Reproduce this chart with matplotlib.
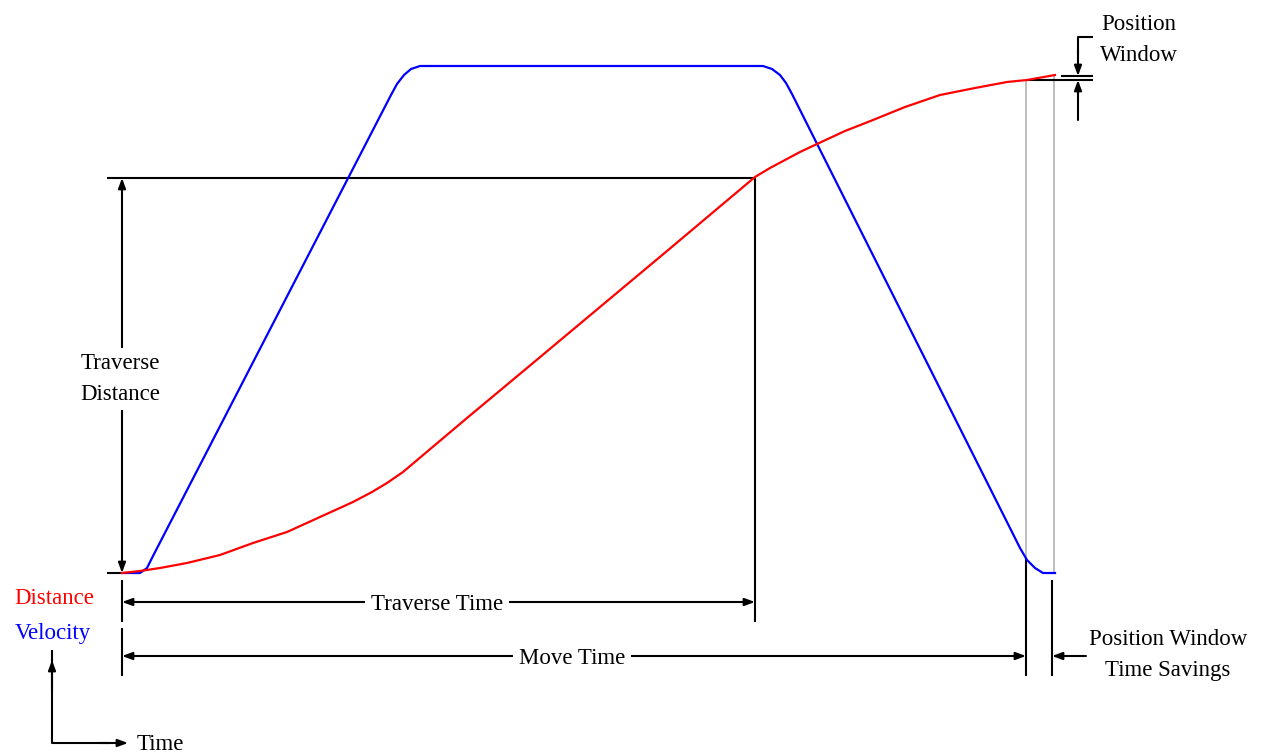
import matplotlib.pyplot as plt

# Velocity profile (trapezoid with rounded corners), pixel coords of the drawing
vel_t = [122, 140, 147, 153, 391, 397, 404, 411, 420, 763, 772, 780, 786, 792,
         1012, 1020, 1027, 1035, 1043, 1055]
vel_y = [573, 573, 568, 556, 95, 84, 75, 69, 66, 66, 69, 75, 83, 94,
         532, 548, 560, 568, 573, 573]

# Distance profile (S-curve)
dist_t = [122, 140, 160, 187, 220, 253, 287, 320, 353, 372, 387, 403, 467, 533, 600,
          667, 755, 770, 785, 800, 817, 845, 873, 905, 940, 975, 1007, 1027, 1055]
dist_y = [573, 571, 568, 563, 555, 543, 532, 517, 502, 492, 483, 472, 418, 363, 307,
          251, 177, 168, 160, 152, 144, 131, 120, 107, 95, 88, 82, 80, 75]

# Key times / levels of the drawing
t_start = 122
t_traverse = 755
t_move = 1026
t_window = 1054
y_start = 573
y_traverse = 178
y_final = 80

FONT = "Liberation Serif"
FS = 16.5

fig = plt.figure(figsize=(12.64, 7.55), dpi=100)
ax = fig.add_axes([0, 0, 1, 1])
ax.set_xlim(0, 1264)
ax.set_ylim(755, 0)
ax.axis("off")

black = dict(color="black", linewidth=1.5, solid_capstyle="butt")
arrow = dict(arrowstyle="-|>,head_length=0.6,head_width=0.22", color="black",
             linewidth=1.5, shrinkA=0, shrinkB=0)


def arrow_to(x0, y0, x1, y1):
    ax.annotate("", xy=(x1, y1), xytext=(x0, y0), arrowprops=arrow)


def label(x, y, s, color="black", ha="center", bg=False):
    kw = {}
    if bg:
        kw["bbox"] = dict(facecolor="white", edgecolor="none", pad=4)
    ax.text(x, y + 3, s, color=color, ha=ha, va="center", family=FONT,
            fontsize=FS, linespacing=1.6, zorder=5, **kw)


# gray guide lines at end of move
ax.plot([t_move, t_move], [y_final, 558], color="#b8b8b8", linewidth=1.3)
ax.plot([t_window, t_window], [y_final - 4, y_start], color="#b8b8b8", linewidth=1.3)

# curves
ax.plot(vel_t, vel_y, color="#0000ff", linewidth=1.6, zorder=3)
ax.plot(dist_t, dist_y, color="#ff0000", linewidth=1.6, zorder=3)

# traverse distance
ax.plot([107, t_traverse], [y_traverse, y_traverse], **black)
ax.plot([107, t_start], [y_start, y_start], **black)
ax.plot([t_traverse, t_traverse], [y_traverse, 622], **black)
arrow_to(t_start, 370, t_start, y_traverse)
arrow_to(t_start, 380, t_start, y_start)
label(120, 376, "Traverse\nDistance", bg=True)

# traverse time
ax.plot([t_start, t_start], [580, 622], **black)
arrow_to(430, 602, t_start, 602)
arrow_to(430, 602, t_traverse, 602)
label(437, 602, "Traverse Time", bg=True)

# move time
ax.plot([t_start, t_start], [628, 676], **black)
ax.plot([t_move, t_move], [558, 676], **black)
ax.plot([1052, 1052], [580, 676], **black)
arrow_to(570, 656, t_start, 656)
arrow_to(570, 656, t_move, 656)
arrow_to(1086, 656, 1052, 656)
label(572, 655, "Move Time", bg=True)
label(1168, 652, "Position Window\nTime Savings")

# position window
ax.plot([1061, 1093], [76, 76], **black)
ax.plot([1027, 1093], [y_final, y_final], **black)
ax.plot([1093, 1078, 1078], [37, 37, 55], **black)
arrow_to(1078, 50, 1078, 76)
arrow_to(1078, 120, 1078, y_final)
label(1139, 37, "Position\nWindow")

# axes legend
label(54, 596, "Distance", color="#ff0000")
label(53, 630, "Velocity", color="#0000ff")
ax.plot([52, 52, 110], [650, 743, 743], **black)
arrow_to(52, 690, 52, 660)
arrow_to(100, 743, 128, 743)
label(137, 742, "Time", ha="left")

fig.savefig("out.png", dpi=100)
